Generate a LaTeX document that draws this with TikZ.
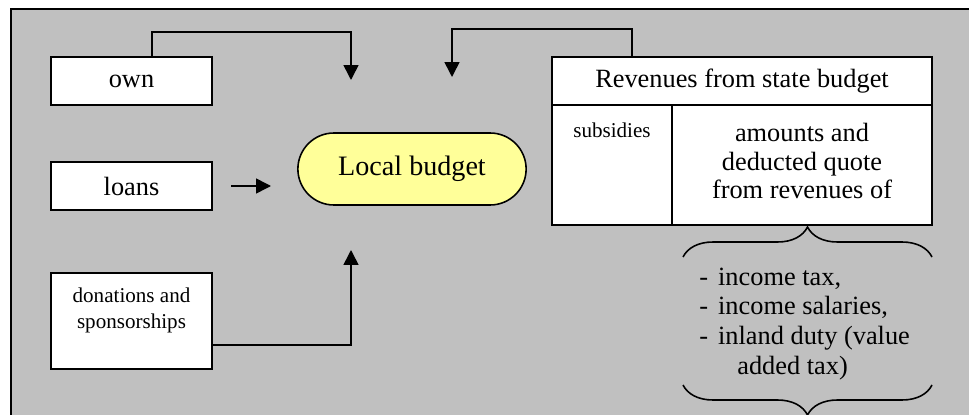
\documentclass[tikz,border=0pt]{standalone}
\usepackage{fontspec}
\setmainfont{Liberation Serif}
\usetikzlibrary{arrows.meta,shapes.misc,decorations.pathreplacing}
\definecolor{panelgray}{HTML}{C0C0C0}
\definecolor{budgetyellow}{HTML}{FFFF99}

\begin{document}
\begin{tikzpicture}[x=0.02cm,y=-0.02cm,
		box/.style={draw,fill=white,line width=0.9pt,inner sep=0pt,font=\fontsize{15}{17}\selectfont},
		conn/.style={line width=0.9pt,-{Triangle[length=0.3cm,width=0.3cm]}},
		brc/.style={line width=0.9pt,decorate,decoration={brace,amplitude=0.6cm}}]
			\useasboundingbox (0,0) rectangle (969,415);
			\begin{scope}
				\clip (0,0) rectangle (969,415);
				\draw[fill=panelgray,line width=1pt] (11,9) rectangle (990,440);
			\end{scope}
			% sources on the left
			\node[box,minimum width=3.22cm,minimum height=0.96cm] (own) at (131.5,81) {own};
			\node[box,minimum width=3.22cm,minimum height=0.96cm] (loans) at (131.5,186) {loans};
			\node[box,minimum width=3.22cm,minimum height=1.92cm,align=center,font=\fontsize{12}{14.7}\selectfont] (don) at (131.5,321) {donations and\\sponsorships\\\mbox{}};
			\node[draw,fill=budgetyellow,rounded rectangle,line width=0.9pt,minimum width=4.8cm,minimum height=1.44cm,font=\fontsize{16}{18}\selectfont] (local) at (412,169) {Local budget};
			% state budget table
			\node[box,minimum width=7.6cm,minimum height=0.96cm] (state) at (742,81) {Revenues from state budget};
			\node[box,minimum width=2.4cm,minimum height=2.4cm] (subs) at (612,165) {};
			\node[box,minimum width=5.2cm,minimum height=2.4cm] (amt) at (802,165) {};
			\node[font=\fontsize{12}{14}\selectfont] (substext) at (612,130) {subsidies};
			\node[align=center,font=\fontsize{15}{16.4}\selectfont] (amttext) at (802,161) {amounts and\\deducted quote\\from revenues of};
			\node[align=left,anchor=west,inner sep=0pt,font=\fontsize{15}{17}\selectfont] (taxes) at (699,324) {-\hspace{0.2cm}income tax,\\-\hspace{0.2cm}income salaries,\\-\hspace{0.2cm}inland duty (value\\\hspace{0.76cm}added tax)};
			\coordinate (inown) at (351,80);
			\coordinate (instate) at (452,77);
			\coordinate (outloans) at (231,186);
			\coordinate (inloans) at (271,186);
			\coordinate (indon) at (351,250);
			\coordinate (brtl) at (683,257);
			\coordinate (brtr) at (932,257);
			\coordinate (brbl) at (683,385);
			\coordinate (brbr) at (932,385);
			\draw[conn] ([xshift=0.41cm]own.north) -- ++(0,-24) -| (inown);
			\draw[conn] ([xshift=-2.2cm]state.north) -- ++(0,-27) -| (instate);
			\draw[conn] (outloans) -- (inloans);
			\draw[conn] ([yshift=-0.48cm]don.east) -| (indon);
			\draw[brc] (brtl) -- (brtr);
			\draw[brc] (brbr) -- (brbl);
		\end{tikzpicture}
\end{document}
